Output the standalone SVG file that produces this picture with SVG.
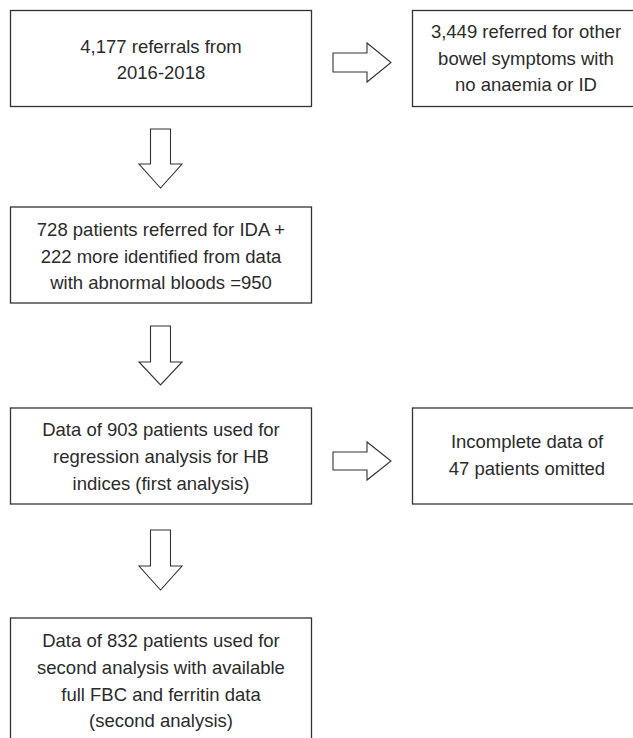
<svg xmlns="http://www.w3.org/2000/svg" width="633" height="738" viewBox="0 0 633 738">
<style>
.box{fill:#fff;stroke:#333;stroke-width:1.3}
.arr{fill:#fff;stroke:#333;stroke-width:1.1;stroke-linejoin:miter}
text{font-family:"Liberation Sans",Arial,sans-serif;font-size:18.5px;fill:#2b2b2b;text-anchor:middle}
</style>
<rect width="633" height="738" fill="#fff"/>
<g id="connectors">
<path class="arr" d="M333,53 H367 V43 L391,62.5 L367,82 V72 H333 Z"/>
<path class="arr" d="M333,452 H367 V442 L391,461 L367,480 V470 H333 Z"/>
<path class="arr" d="M150.5,129 H170.5 V164 H182 L160.5,188 L139,164 H150.5 Z"/>
<path class="arr" d="M150.5,326 H170.5 V362 H182 L160.5,385 L139,362 H150.5 Z"/>
<path class="arr" d="M150.5,530 H170.5 V566 H182 L160.5,590 L139,566 H150.5 Z"/>
</g>
<g id="n1">
<rect class="box" x="10.5" y="10.5" width="301" height="96"/>
<text x="161" y="53">4,177 referrals from</text>
<text x="161" y="79">2016-2018</text>
</g>
<g id="n2">
<rect class="box" x="412.5" y="10.5" width="228" height="96"/>
<text x="526" y="38">3,449 referred for other</text>
<text x="526" y="64.5">bowel symptoms with</text>
<text x="526" y="91">no anaemia or ID</text>
</g>
<g id="n3">
<rect class="box" x="10.5" y="207" width="301" height="96"/>
<text x="161" y="236">728 patients referred for IDA +</text>
<text x="161" y="262.5">222 more identified from data</text>
<text x="161" y="289">with abnormal bloods =950</text>
</g>
<g id="n4">
<rect class="box" x="10.5" y="408" width="301" height="96"/>
<text x="161" y="435.5">Data of 903 patients used for</text>
<text x="161" y="462.5">regression analysis for HB</text>
<text x="161" y="489.5">indices (first analysis)</text>
</g>
<g id="n5">
<rect class="box" x="412.5" y="408" width="228" height="96"/>
<text x="527" y="448">Incomplete data of</text>
<text x="527" y="475">47 patients omitted</text>
</g>
<g id="n6">
<rect class="box" x="10.5" y="618" width="301" height="130"/>
<text x="161" y="647">Data of 832 patients used for</text>
<text x="161" y="674">second analysis with available</text>
<text x="161" y="700.5">full FBC and ferritin data</text>
<text x="161" y="727">(second analysis)</text>
</g>
</svg>
